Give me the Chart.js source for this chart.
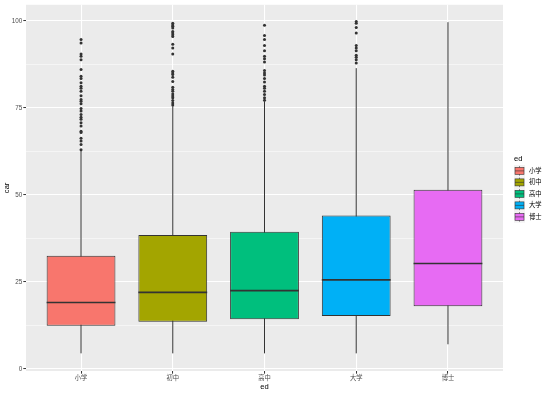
<!DOCTYPE html>
<html lang="zh">
<head>
    <meta charset="UTF-8">
    <title>car by ed</title>
    <script src="https://cdn.jsdelivr.net/npm/chart.js"></script>
    <style>
        body { margin: 0; background: #fff; }
    </style>
</head>
<body>
    <canvas id="boxChart" width="554" height="393"></canvas>

    <script>
        // categories and box statistics
        const categories = ['小学', '初中', '高中', '大学', '博士'];
        const boxColors = ['#F8766D', '#A3A500', '#00BF7D', '#00B0F6', '#E76BF3'];
        const whiskerLow = [4.5, 4.5, 4.5, 4.5, 7.1];
        const q1 = [12.4, 13.6, 14.3, 15.2, 18.0];
        const medians = [19.1, 22.0, 22.5, 25.6, 30.3];
        const q3 = [32.5, 38.5, 39.4, 44.1, 51.5];
        const whiskerHigh = [62.6, 75.5, 76.9, 86.4, 99.6];

        // outliers per category
        const outliers = [
            [63.0, 64.5, 65.5, 66.3, 67.9, 68.3, 69.8, 70.7, 71.7, 72.3, 73.1, 74.1, 74.8, 76.2, 76.9, 77.4,
             78.5, 79.8, 80.6, 81.2, 82.2, 83.4, 84.1, 86.0, 88.8, 89.8, 90.5, 93.6, 94.6],
            [75.8, 76.4, 77.1, 77.9, 78.4, 79.0, 79.8, 80.3, 80.9, 82.6, 83.8, 84.6, 85.0, 85.5, 90.5, 92.2,
             93.3, 95.5, 96.0, 96.5, 96.9, 97.9, 98.4, 98.8, 99.3],
            [77.2, 77.9, 78.8, 79.8, 80.6, 81.2, 82.4, 83.4, 84.4, 85.0, 85.7, 88.2, 89.1, 89.8, 91.4, 92.9,
             94.6, 95.8, 98.7],
            [87.9, 88.8, 89.5, 90.1, 91.4, 92.2, 92.9, 96.5, 98.1, 99.3, 99.8],
            []
        ];

        const yTicks = [0, 25, 50, 75, 100];
        const yMinor = [12.5, 37.5, 62.5, 87.5];

        const fontFamily = "'Liberation Sans', 'Noto Sans CJK SC', sans-serif";
        Chart.defaults.font.family = fontFamily;

        // grey panel behind the grid
        const panelBg = {
            id: 'panelBg',
            beforeDraw(chart) {
                const {ctx, chartArea: a} = chart;
                ctx.save();
                ctx.fillStyle = '#EBEBEB';
                ctx.fillRect(a.left, a.top, a.right - a.left, a.bottom - a.top);
                ctx.restore();
            }
        };

        // whiskers behind the boxes, medians on top
        const boxParts = {
            id: 'boxParts',
            beforeDatasetsDraw(chart) {
                const {ctx, scales: {y}} = chart;
                const bars = chart.getDatasetMeta(0).data;
                ctx.save();
                ctx.strokeStyle = '#333333';
                ctx.lineWidth = 1;
                bars.forEach((bar, i) => {
                    ctx.beginPath();
                    ctx.moveTo(bar.x, y.getPixelForValue(whiskerLow[i]));
                    ctx.lineTo(bar.x, y.getPixelForValue(whiskerHigh[i]));
                    ctx.stroke();
                });
                ctx.restore();
            },
            afterDatasetsDraw(chart) {
                const {ctx, scales: {y}} = chart;
                const bars = chart.getDatasetMeta(0).data;
                ctx.save();
                ctx.strokeStyle = '#333333';
                ctx.lineWidth = 1.6;
                bars.forEach((bar, i) => {
                    const py = y.getPixelForValue(medians[i]);
                    ctx.beginPath();
                    ctx.moveTo(bar.x - bar.width / 2, py);
                    ctx.lineTo(bar.x + bar.width / 2, py);
                    ctx.stroke();
                });
                ctx.restore();
            }
        };

        // ggplot-style legend on the right
        const keyLegend = {
            id: 'keyLegend',
            afterDraw(chart) {
                const {ctx, chartArea: a} = chart;
                const rowH = 11.5;
                const x0 = a.right + 11;
                const midY = (a.top + a.bottom) / 2;
                const first = midY - (categories.length - 1) / 2 * rowH + 6;
                ctx.save();
                ctx.textBaseline = 'middle';
                ctx.textAlign = 'left';
                ctx.fillStyle = '#000';
                ctx.font = '7.6px ' + fontFamily;
                ctx.fillText('ed', x0, first - 12);
                ctx.font = '6.3px ' + fontFamily;
                categories.forEach((c, i) => {
                    const cy = first + i * rowH;
                    ctx.fillStyle = '#F2F2F2';
                    ctx.fillRect(x0, cy - rowH / 2, 11, rowH);
                    ctx.strokeStyle = '#333333';
                    ctx.lineWidth = 0.6;
                    ctx.beginPath();
                    ctx.moveTo(x0 + 5.5, cy - rowH / 2 + 1);
                    ctx.lineTo(x0 + 5.5, cy + rowH / 2 - 1);
                    ctx.stroke();
                    ctx.fillStyle = boxColors[i];
                    ctx.fillRect(x0 + 1, cy - 3.5, 9, 7);
                    ctx.strokeRect(x0 + 1, cy - 3.5, 9, 7);
                    ctx.beginPath();
                    ctx.moveTo(x0 + 1, cy);
                    ctx.lineTo(x0 + 10, cy);
                    ctx.stroke();
                    ctx.fillStyle = '#000';
                    ctx.fillText(c, x0 + 15, cy);
                });
                ctx.restore();
            }
        };

        const outlierPoints = [];
        outliers.forEach((list, i) => list.forEach(v => outlierPoints.push({x: i, y: v})));

        new Chart(document.getElementById('boxChart'), {
            type: 'bar',
            data: {
                datasets: [{
                    label: 'box',
                    data: categories.map((c, i) => ({x: i, y: [q1[i], q3[i]]})),
                    backgroundColor: boxColors,
                    borderColor: '#333333',
                    borderWidth: 1,
                    borderSkipped: false,
                    categoryPercentage: 1,
                    barPercentage: 0.75
                }, {
                    type: 'scatter',
                    label: 'outliers',
                    data: outlierPoints,
                    pointRadius: 1.5,
                    pointBackgroundColor: '#333333',
                    pointBorderWidth: 0
                }]
            },
            options: {
                responsive: false,
                animation: false,
                layout: { padding: { top: 3.3, right: 51, left: 0, bottom: 0 } },
                plugins: {
                    legend: { display: false },
                    tooltip: { enabled: false }
                },
                scales: {
                    x: {
                        type: 'linear',
                        min: -0.6,
                        max: 4.6,
                        offset: false,
                        afterBuildTicks: s => { s.ticks = categories.map((c, i) => ({value: i})); },
                        afterFit: s => { s.height = 22; },
                        border: { display: false },
                        grid: {
                            offset: false,
                            color: '#FFFFFF',
                            lineWidth: 1.07,
                            tickLength: 2.7,
                            tickColor: '#333333',
                            tickWidth: 1
                        },
                        ticks: {
                            callback: v => categories[v],
                            color: '#4D4D4D',
                            font: { size: 6.3 },
                            padding: 1,
                            autoSkip: false,
                            maxRotation: 0
                        },
                        title: {
                            display: true,
                            text: 'ed',
                            color: '#000',
                            font: { size: 7.6 },
                            padding: { top: 0, bottom: 1.5 }
                        }
                    },
                    y: {
                        min: -0.57,
                        max: 104.6,
                        afterBuildTicks: s => {
                            s.ticks = yTicks.concat(yMinor).sort((a, b) => a - b).map(v => ({value: v}));
                        },
                        afterFit: s => { s.width = 26; },
                        border: { display: false },
                        grid: {
                            color: '#FFFFFF',
                            lineWidth: c => yTicks.includes(c.tick.value) ? 1.07 : 0.53,
                            tickLength: 2.7,
                            tickColor: c => yTicks.includes(c.tick.value) ? '#333333' : 'rgba(0,0,0,0)',
                            tickWidth: 1
                        },
                        ticks: {
                            callback: v => yTicks.includes(v) ? v : '',
                            color: '#4D4D4D',
                            font: { size: 6.3 },
                            padding: 1,
                            autoSkip: false
                        },
                        title: {
                            display: true,
                            text: 'car',
                            color: '#000',
                            font: { size: 7.6 },
                            padding: { top: 2.4, bottom: 0 }
                        }
                    }
                }
            },
            plugins: [panelBg, boxParts, keyLegend]
        });
    </script>
</body>
</html>
